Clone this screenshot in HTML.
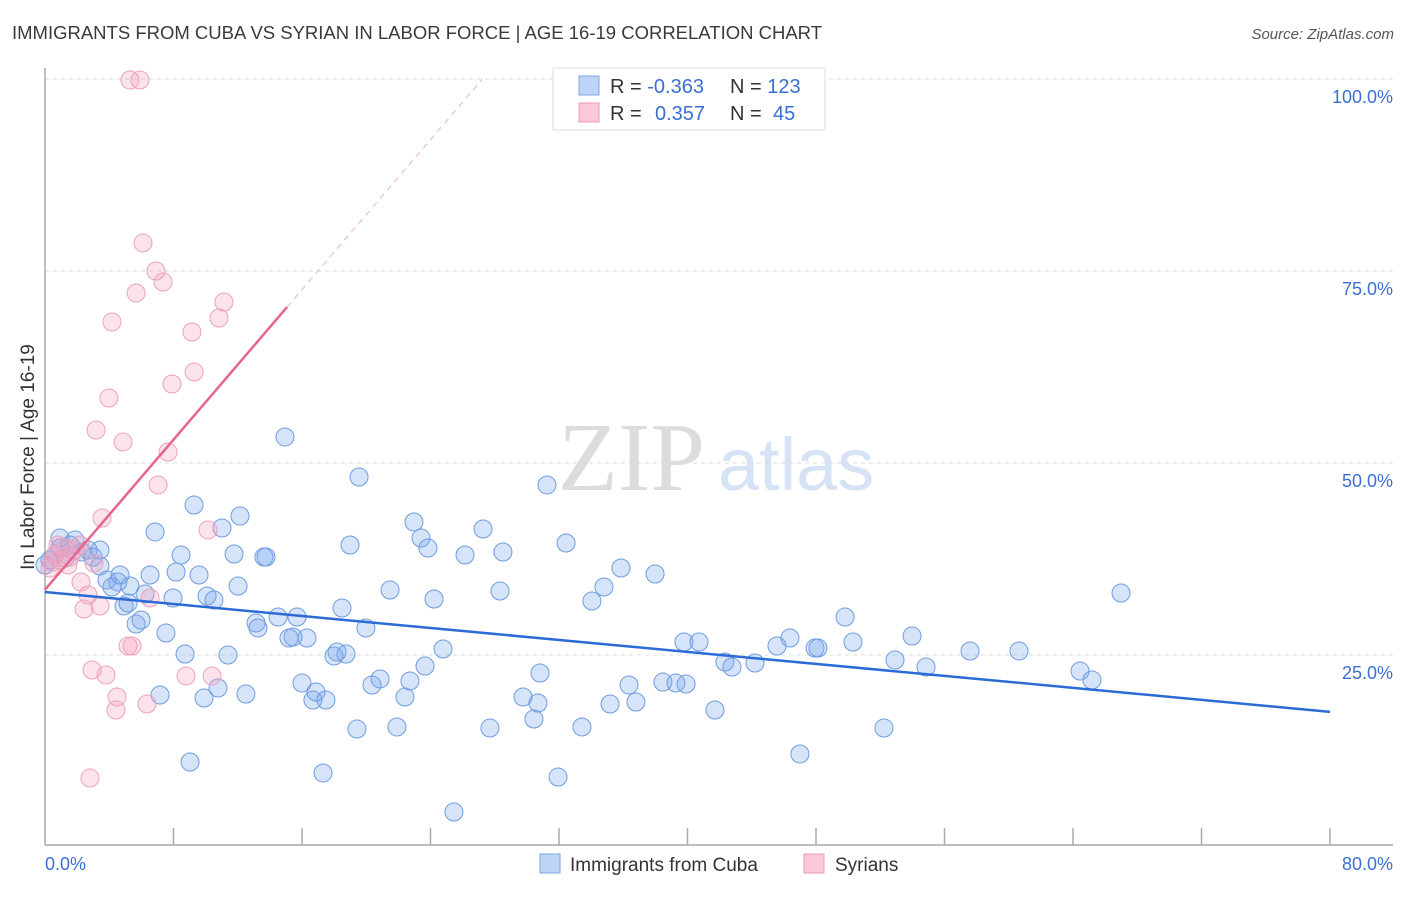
<!DOCTYPE html>
<html><head><meta charset="utf-8"><style>
body{margin:0;background:#fff;font-family:"Liberation Sans",sans-serif}
</style></head><body>
<svg id="c" width="1406" height="892" xmlns="http://www.w3.org/2000/svg" style="font-family:'Liberation Sans',sans-serif">
<text x="12" y="39" font-size="18.5" fill="#3a3a3a" textLength="810">IMMIGRANTS FROM CUBA VS SYRIAN IN LABOR FORCE | AGE 16-19 CORRELATION CHART</text>
<text x="1394" y="39" font-size="15" fill="#555" font-style="italic" text-anchor="end">Source: ZipAtlas.com</text>
<text x="558" y="490" font-size="98" fill="#dcdcdc" font-family="'Liberation Serif',serif">ZIP</text>
<text x="718" y="490" font-size="74" fill="#d6e3f5">atlas</text>
<g id="grid"></g><g id="axes"></g><g id="pts"></g><g id="lines"></g>
<text transform="translate(34,457) rotate(-90)" font-size="19" fill="#333" text-anchor="middle">In Labor Force | Age 16-19</text>
<text x="45" y="870" font-size="18" fill="#3b6fd4">0.0%</text>
<text x="1393" y="870" font-size="18" fill="#3b6fd4" text-anchor="end">80.0%</text>
<g>
<rect x="553" y="68" width="272" height="62" fill="#fff" stroke="#ddd"/>
<rect x="579" y="76" width="20" height="19" fill="#bcd4f6" stroke="#7ea6e0"/>
<rect x="579" y="103" width="20" height="19" fill="#fbc8d8" stroke="#eb9ab5"/>
<text x="610" y="93" font-size="20" fill="#333">R = <tspan fill="#3b6fd4">-0.363</tspan></text>
<text x="730" y="93" font-size="20" fill="#333">N = <tspan fill="#3b6fd4">123</tspan></text>
<text x="610" y="120" font-size="20" fill="#333">R = <tspan fill="#3b6fd4" x="655">0.357</tspan></text>
<text x="730" y="120" font-size="20" fill="#333">N = <tspan fill="#3b6fd4" x="773">45</tspan></text>
</g>
<g>
<rect x="540" y="854" width="20" height="19" fill="#bcd4f6" stroke="#7ea6e0"/>
<text x="570" y="871" font-size="19" fill="#333">Immigrants from Cuba</text>
<rect x="804" y="854" width="20" height="19" fill="#fbc8d8" stroke="#eb9ab5"/>
<text x="835" y="871" font-size="19" fill="#333">Syrians</text>
</g>
</svg>
<script>
const yTicks=[25,50,75,100];
const yTickLabels=["25.0%","50.0%","75.0%","100.0%"];
const xTicks=[0,8,16,24,32,40,48,56,64,72,80];
const cubaPx=[[45,565],[50,560],[55,555],[60,548],[65,558],[70,545],[75,540],[82,552],[88,550],[93,557],[100,566],[107,580],[112,587],[118,582],[124,606],[128,603],[130,586],[136,624],[141,620],[145,594],[150,575],[155,532],[160,695],[166,633],[173,598],[176,572],[181,555],[185,654],[190,762],[194,505],[199,575],[204,698],[207,596],[214,600],[218,688],[222,528],[228,655],[234,554],[238,586],[240,516],[246,694],[256,623],[258,628],[264,557],[266,557],[278,617],[285,437],[289,638],[293,637],[297,617],[302,683],[307,638],[313,700],[316,692],[323,773],[326,700],[334,656],[337,652],[342,608],[346,654],[350,545],[357,729],[359,477],[366,628],[372,685],[380,679],[390,590],[397,727],[405,697],[410,681],[414,522],[421,538],[425,666],[428,548],[434,599],[443,649],[454,812],[465,555],[483,529],[490,728],[500,591],[503,552],[523,697],[534,719],[538,703],[540,673],[547,485],[558,777],[566,543],[582,727],[592,601],[604,587],[610,704],[621,568],[629,685],[636,702],[655,574],[663,682],[676,683],[684,642],[686,684],[699,642],[715,710],[725,662],[732,667],[755,663],[777,646],[790,638],[800,754],[815,648],[818,648],[845,617],[853,642],[884,728],[895,660],[912,636],[926,667],[970,651],[1019,651],[1080,671],[1092,680],[1121,593],[100,550],[120,575],[60,538]];
const syrPx=[[130,80],[140,80],[143,243],[156,271],[163,282],[136,293],[112,322],[224,302],[219,318],[192,332],[194,372],[172,384],[109,398],[96,430],[123,442],[168,452],[158,485],[208,530],[102,518],[150,598],[88,595],[84,609],[100,606],[128,646],[132,646],[92,670],[106,675],[186,676],[212,676],[117,697],[116,710],[147,704],[90,778],[81,582],[94,563],[70,557],[55,555],[60,560],[50,568],[65,548],[75,550],[80,545],[58,545],[52,562],[68,565]];
const cubaX=cubaPx.map(p=>+((p[0]-45)*80/1285).toFixed(2));
const cubaY=cubaPx.map(p=>+((847-p[1])/7.68).toFixed(2));
const syrX=syrPx.map(p=>+((p[0]-45)*80/1285).toFixed(2));
const syrY=syrPx.map(p=>+((847-p[1])/7.68).toFixed(2));
const cubaTrend=[33.2,17.6];
const syrTrend=[33.5,70.3,15.07];
const X=v=>45+v*1285/80, Y=v=>847-v*7.68;
const NS="http://www.w3.org/2000/svg";
function mk(t,a,p){const e=document.createElementNS(NS,t);for(const k in a)e.setAttribute(k,a[k]);document.getElementById(p).appendChild(e);return e;}
yTicks.forEach((t,i)=>{
 const l=mk('line',{x1:45,x2:1393,y1:Y(t),y2:Y(t),stroke:'#ddd','stroke-dasharray':'4 4'},'grid');
 
 
 const tx=mk('text',{x:1393,y:Y(t)+24,'font-size':18,fill:'#3b6fd4','text-anchor':'end'},'grid');
 tx.textContent=yTickLabels[i];
 
 
});
let a=mk('line',{x1:45,x2:45,y1:68,y2:845,stroke:'#aaa','stroke-width':1.5},'axes');


a=mk('line',{x1:45,x2:1393,y1:845,y2:845,stroke:'#aaa','stroke-width':1.5},'axes');


xTicks.slice(1).forEach(t=>{
 const l=mk('line',{x1:X(t),x2:X(t),y1:828,y2:845,stroke:'#aaa','stroke-width':1.5},'axes');
 
 
});
cubaX.forEach((x,i)=>{
 const c=mk('circle',{cx:X(x),cy:Y(cubaY[i]),r:9,fill:'rgba(120,165,235,0.3)',stroke:'#6f9ce0','stroke-width':1},'pts');
 
 
});
syrX.forEach((x,i)=>{
 const c=mk('circle',{cx:X(x),cy:Y(syrY[i]),r:9,fill:'rgba(245,160,190,0.3)',stroke:'#eda2bb','stroke-width':1},'pts');
 
 
});
let l=mk('line',{x1:X(0),y1:Y(cubaTrend[0]),x2:X(80),y2:Y(cubaTrend[1]),stroke:'#2a6bd6','stroke-width':2.5},'lines');


const s=(syrTrend[1]-syrTrend[0])/syrTrend[2];
l=mk('line',{x1:X(0),y1:Y(syrTrend[0]),x2:X(syrTrend[2]),y2:Y(syrTrend[1]),stroke:'#e8648f','stroke-width':2.5},'lines');


const xe=(100-syrTrend[0])/s;
l=mk('line',{x1:X(syrTrend[2]),y1:Y(syrTrend[1]),x2:X(xe),y2:Y(100),stroke:'#eeb0c4','stroke-width':1,'stroke-dasharray':'6 5'},'lines');


</script>
</body></html>
